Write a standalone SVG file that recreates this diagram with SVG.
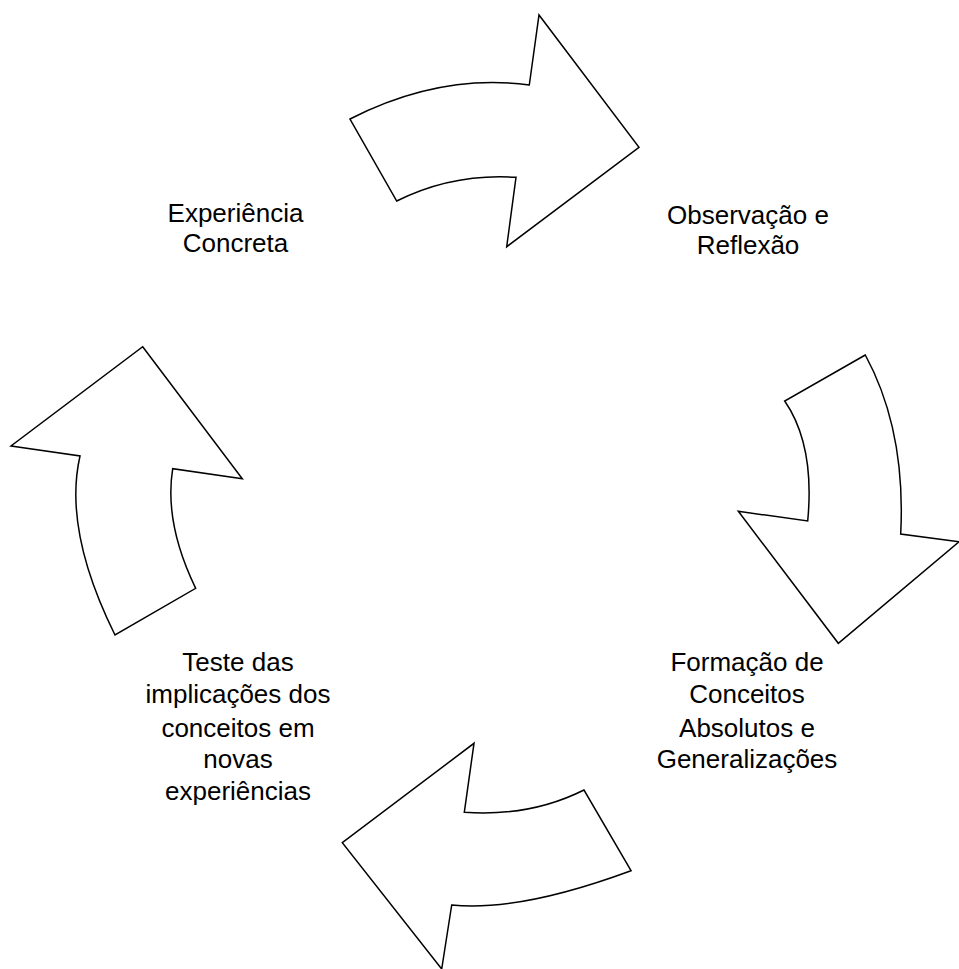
<svg xmlns="http://www.w3.org/2000/svg" width="959" height="969" viewBox="0 0 959 969">
<style>
.arrow{fill:#fff;stroke:#000;stroke-width:1.5;stroke-linejoin:miter}
.lbl{font-family:"Liberation Sans",Arial,sans-serif;font-size:26px;fill:#000;text-anchor:middle}
</style>
<rect width="959" height="969" fill="#fff"/>
<g id="connectors">
<path id="arrow-top" class="arrow" d="M350,119 Q440,73 529.3,85 L539,15 L639,147.3 L506.7,246.7 L516,177.3 Q453,173 396.7,201 Z"/>
<path id="arrow-right" class="arrow" d="M865.3,355 L784.7,401 Q815,445 807.7,521 L738.3,511.3 L838.3,643.3 L959,541.7 L900.7,534 Q906,430 865.3,355 Z"/>
<path id="arrow-bottom" class="arrow" d="M474,743.3 L464.3,812.3 Q530,817 584,790 L631,870.7 Q519,912 451.7,905 L441.7,969 L342.3,842.7 Z"/>
<path id="arrow-left" class="arrow" d="M142.7,346.7 L242.3,478.7 L172.7,468.7 Q164,523 195.7,588.3 L115,635 Q63,530 80,456 L11,446 Z"/>
</g>
<g id="node-experiencia">
<text class="lbl" x="235.5" y="221.7">Experiência</text>
<text class="lbl" x="235.5" y="252.3">Concreta</text>
</g>
<g id="node-observacao">
<text class="lbl" x="748" y="224">Observação e</text>
<text class="lbl" x="748" y="254.3">Reflexão</text>
</g>
<g id="node-formacao">
<text class="lbl" x="747" y="670.7">Formação de</text>
<text class="lbl" x="747" y="703.3">Conceitos</text>
<text class="lbl" x="747" y="736.7">Absolutos e</text>
<text class="lbl" x="747" y="768.3">Generalizações</text>
</g>
<g id="node-teste">
<text class="lbl" x="238" y="670.7">Teste das</text>
<text class="lbl" x="238" y="703.3">implicações dos</text>
<text class="lbl" x="238" y="736.7">conceitos em</text>
<text class="lbl" x="238" y="768.3">novas</text>
<text class="lbl" x="238" y="800">experiências</text>
</g>
</svg>
